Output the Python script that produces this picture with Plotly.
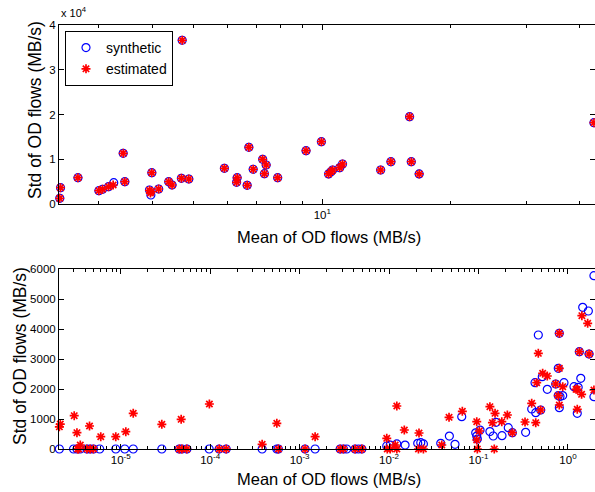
import plotly.graph_objects as go
import math

# ---------------- top panel data ----------------
top_syn_mean = [2.43, 2.44, 2.68, 3.00, 3.06, 3.16, 3.25, 3.42, 3.45, 3.94, 3.97, 3.99,
                4.14, 4.37, 4.45, 4.68, 4.70, 4.87, 5.90, 6.32, 6.30, 6.67, 6.73, 6.89,
                7.25, 7.32, 7.39, 7.86, 9.16, 9.95, 10.34, 10.48, 10.57, 10.98, 11.15,
                13.69, 14.47, 16.0, 16.15, 16.85, 43.2]
top_syn_std = [1270, 3640, 5880, 2970, 3290, 3870, 4760, 11330, 4980, 3130, 2010, 7000,
               3350, 4980, 4250, 5740, 36590, 5590, 7980, 5880, 4850, 4180, 12670, 7760,
               9990, 6770, 8720, 5880, 11910, 13920, 6710, 7220, 7600, 8110, 8940,
               7600, 9460, 19510, 9460, 6710, 18170]
top_est_mean = [2.43, 2.44, 2.68, 3.00, 3.06, 3.16, 3.24, 3.42, 3.45, 3.94, 3.96, 3.97, 3.99,
                4.14, 4.37, 4.45, 4.68, 4.70, 4.87, 5.90, 6.32, 6.30, 6.67, 6.73, 6.89,
                7.25, 7.32, 7.39, 7.86, 9.16, 9.95, 10.34, 10.48, 10.57, 10.98, 11.15,
                13.69, 14.47, 16.0, 16.15, 16.85, 43.2]
top_est_std = [1270, 3640, 5880, 2970, 3290, 3870, 4250, 11330, 4980, 3060, 2450, 2750, 7000,
               3350, 4980, 4250, 5740, 36590, 5590, 7980, 5880, 4850, 4180, 12670, 7760,
               9990, 6770, 8720, 5880, 11910, 13920, 6710, 7220, 7600, 8110, 8940,
               7600, 9460, 19510, 9460, 6710, 18170]

# ---------------- bottom panel data ----------------
bot_syn_mean = [2.06e-6, 2.97e-6, 3.24e-6, 3.53e-6, 4.19e-6, 4.56e-6, 4.96e-6, 5.82e-6,
                8.8e-6, 1.11e-5, 1.38e-5, 2.88e-5, 4.51e-5, 4.83e-5, 5.49e-5, 9.75e-5,
                1.26e-4, 1.51e-4, 3.81e-4, 5.56e-4, 5.79e-4, 1.15e-3, 1.49e-3, 2.84e-3,
                3.09e-3, 3.36e-3, 4.17e-3, 4.54e-3, 4.96e-3,
                9.42e-3, 1.03e-2, 1.22e-2, 1.51e-2, 2.09e-2, 2.26e-2, 2.42e-2, 3.78e-2,
                4.72e-2, 5.46e-2, 6.49e-2, 9.3e-2, 9.55e-2, 9.7e-2, 0.104, 0.134, 0.146,
                0.157, 0.183, 0.215, 0.239, 0.336, 0.393, 0.436, 0.466, 0.428, 0.495,
                0.516, 0.587, 0.729, 0.779, 0.80, 0.779, 0.814, 0.873, 0.80, 0.902,
                1.167, 1.27, 1.30, 1.34, 1.39, 1.46, 1.69, 1.72, 1.95, 1.95]
bot_syn_std = [0, 0, 0, 0, 0, 0, 0, 0, 0, 0, 0, 0, 0, 0, 0, 0, 0, 0, 0, 0, 0, 0, 0, 0,
               0, 0, 0, 0, 0,
               100, 130, 170, 130, 190, 210, 170, 190, 430, 155, 1077, 540, 430, 330,
               630, 580, 433, 890, 443, 710, 543, 557, 1333, 1210, 3800, 2210, 1300,
               2410, 1990, 2167, 2690, 3857, 1780, 1750, 1780, 1377, 2210, 2077, 1190,
               2057, 3243, 2357, 4723, 4600, 3167, 1743, 5777]
bot_est_mean = [2.06e-6, 2.11e-6, 3.02e-6, 3.24e-6, 3.53e-6, 4.48e-6, 5.98e-6, 8.8e-6,
                1.14e-5, 1.38e-5, 2.88e-5, 4.74e-5, 9.8e-5, 3.81e-4, 5.56e-4, 1.49e-3,
                9.42e-3, 1.22e-2, 1.17e-2, 1.48e-2, 2.16e-2, 3.88e-2, 4.68e-2, 6.59e-2,
                9.55e-2, 9.55e-2, 0.102, 0.134, 0.143, 0.153, 0.182, 0.210, 0.239, 0.331,
                0.393, 0.436, 0.447, 0.466, 0.495, 0.521, 0.587, 0.729, 0.779, 0.80,
                0.80, 0.80, 0.873, 1.23, 1.27, 1.34, 1.27, 1.42, 1.43, 1.66, 1.72, 1.95,
                3.3e-6, 3.38e-6, 4.19e-6, 4.56e-6, 4.96e-6, 4.51e-5, 4.83e-5, 5.49e-5,
                1.26e-4, 1.51e-4, 5.79e-4, 1.15e-3, 2.84e-3, 3.09e-3, 4.17e-3, 4.96e-3,
                9.55e-3, 1.03e-2, 1.22e-2, 2.13e-2, 2.42e-2, 9.7e-2, 0.15]
bot_est_std = [740, 830, 1110, 543, 133, 767, 410, 410, 577, 1190, 823, 990, 1500, 157,
               857, 410, 357, 1433, 133, 633, 533, 133, 1057, 1257, 910, 300, 600, 1410,
               877, 1190, 910, 1133, 543, 900, 1523, 877, 2210, 3190, 1300, 2523, 2433,
               2167, 1777, 3857, 2690, 1467, 2077, 1990, 1990, 3243, 1323, 1823, 4443,
               4190, 3167, 1967,
               0, 0, 0, 0, 0, 0, 0, 0, 0, 0, 0, 0, 0, 0, 0, 0, 0, 0, 0, 0, 0, 0, 0]

top_y_ticks = [0, 10000, 20000, 30000, 40000]
top_y_labels = ["0", "1", "2", "3", "4"]
bot_y_ticks = [0, 1000, 2000, 3000, 4000, 5000, 6000]
bot_x_ticks = [1e-5, 1e-4, 1e-3, 1e-2, 1e-1, 1]
bot_x_labels = ["10<sup>-5</sup>", "10<sup>-4</sup>", "10<sup>-3</sup>",
                "10<sup>-2</sup>", "10<sup>-1</sup>", "10<sup>0</sup>"]

FONT = "Liberation Sans, Arial, sans-serif"
W, H = 595, 492
L = 59

blue = "#0000FF"
red = "#FF0000"

circle = dict(symbol="circle-open", size=8, color=blue, line=dict(color=blue, width=1.2))
star = dict(symbol="asterisk-open", size=7.5, color=red, line=dict(color=red, width=1.7))

fig = go.Figure()
fig.add_trace(go.Scatter(x=top_syn_mean, y=top_syn_std, mode="markers", name="synthetic",
                         marker=circle, xaxis="x", yaxis="y", cliponaxis=False))
fig.add_trace(go.Scatter(x=top_est_mean, y=top_est_std, mode="markers", name="estimated",
                         marker=star, xaxis="x", yaxis="y", cliponaxis=False))
fig.add_trace(go.Scatter(x=bot_syn_mean, y=bot_syn_std, mode="markers", name="synthetic",
                         marker=circle, xaxis="x2", yaxis="y2", showlegend=False,
                         cliponaxis=False))
fig.add_trace(go.Scatter(x=bot_est_mean, y=bot_est_std, mode="markers", name="estimated",
                         marker=star, xaxis="x2", yaxis="y2", showlegend=False,
                         cliponaxis=False))

def py(p):
    return 1 - p / H

def px(p):
    return (p - L) / (W - L)

axis_common = dict(showline=True, linecolor="black", linewidth=1, mirror="ticks",
                   ticks="inside", ticklen=5, tickcolor="black", showgrid=False,
                   zeroline=False, tickfont=dict(family=FONT, size=11.5, color="black"),
                   automargin=False)

top_minor = [3, 4, 5, 6, 7, 8, 9, 20, 30, 40]
bot_minor = [m * 10.0 ** e for e in range(-6, 1) for m in range(2, 10)]

fig.update_layout(
    width=W, height=H,
    margin=dict(l=L, r=0, t=0, b=0),
    paper_bgcolor="white", plot_bgcolor="white",
    font=dict(family=FONT, color="black"),
    xaxis=dict(type="log", range=[math.log10(2.42), math.log10(43.45)],
               domain=[0, 1], anchor="y", tickmode="array", tickvals=[10],
               ticktext=["10<sup>1</sup>"],
               minor=dict(tickmode="array", tickvals=top_minor, ticks="inside",
                          ticklen=3, tickcolor="black", showgrid=False),
               **axis_common),
    yaxis=dict(range=[0, 40000], domain=[py(204), py(25)], anchor="x",
               tickmode="array", tickvals=top_y_ticks, ticktext=top_y_labels,
               **axis_common),
    xaxis2=dict(type="log", range=[-5.69, 0.302], domain=[0, 1], anchor="y2",
                tickmode="array", tickvals=bot_x_ticks, ticktext=bot_x_labels,
                minor=dict(tickmode="array", tickvals=bot_minor, ticks="inside",
                           ticklen=3, tickcolor="black", showgrid=False),
                **axis_common),
    yaxis2=dict(range=[0, 6000], domain=[py(449), py(269)], anchor="x2",
                tickmode="array", tickvals=bot_y_ticks,
                ticktext=[str(v) for v in bot_y_ticks],
                **axis_common),
    legend=dict(x=px(65), y=py(31), xanchor="left", yanchor="top",
                bordercolor="black", borderwidth=1, bgcolor="white",
                font=dict(family=FONT, size=14, color="black"),
                tracegroupgap=0, itemsizing="trace"),
    annotations=[
        dict(text="x 10<sup>4</sup>", x=0, y=py(21), xref="paper", yref="paper",
             xanchor="left", yanchor="bottom", showarrow=False,
             font=dict(family=FONT, size=11, color="black")),
        dict(text="Std of OD flows (MB/s)", x=px(35), y=py(110), xref="paper",
             yref="paper", textangle=-90, showarrow=False, xanchor="center",
             yanchor="middle", font=dict(family=FONT, size=17.5, color="black")),
        dict(text="Std of OD flows (MB/s)", x=px(20), y=py(356), xref="paper",
             yref="paper", textangle=-90, showarrow=False, xanchor="center",
             yanchor="middle", font=dict(family=FONT, size=17.5, color="black")),
        dict(text="Mean of OD flows (MB/s)", x=px(329), y=py(237), xref="paper",
             yref="paper", showarrow=False, xanchor="center", yanchor="middle",
             font=dict(family=FONT, size=16.5, color="black")),
        dict(text="Mean of OD flows (MB/s)", x=px(329), y=py(479), xref="paper",
             yref="paper", showarrow=False, xanchor="center", yanchor="middle",
             font=dict(family=FONT, size=16.5, color="black")),
    ],
)

fig.write_html("out.html", config={"displayModeBar": False},
               post_script="document.body.style.margin='0';document.body.style.padding='0';")
